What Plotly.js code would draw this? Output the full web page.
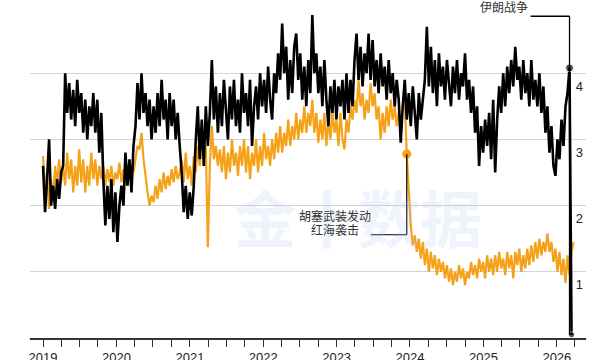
<!DOCTYPE html>
<html><head><meta charset="utf-8">
<script src="https://cdn.plot.ly/plotly-3.0.1.min.js"></script>
<style>html,body{margin:0;padding:0;background:#fff;}#chart{width:600px;height:360px;}</style>
</head><body><div id="chart"></div>
<script>
// ---- data ----
const startDate = '2019-01-01';
const stepDays = 10;
const blackValues = [
  2.6, 1.9, 2.4, 3.0, 2.0, 2.3, 1.95, 2.4, 2.1, 2.5,
  2.6, 4.0, 3.4, 3.85, 3.3, 3.75, 3.2, 3.9, 3.4, 3.7,
  3.1, 3.6, 3.0, 3.5, 3.2, 3.7, 3.1, 3.6, 2.8, 3.4,
  2.4, 1.7, 2.3, 1.8, 2.4, 1.6, 2.2, 1.45, 2.0, 2.3,
  2.0, 2.8, 2.3, 2.7, 2.2, 2.9, 3.2, 3.85, 3.3, 4.0,
  3.4, 3.7, 3.2, 3.6, 3.0, 3.5, 3.1, 3.7, 3.2, 3.9,
  3.3, 3.6, 3.0, 3.7, 3.2, 3.6, 3.0, 3.4, 2.9, 2.5,
  1.9, 2.3, 1.8, 2.2, 1.85, 2.3, 3.0, 3.5, 2.7, 3.3,
  2.6, 3.5, 2.9, 3.4, 4.2, 3.3, 3.8, 3.1, 3.7, 3.2,
  3.9, 3.4, 3.0, 3.8, 3.3, 3.9, 3.2, 3.6, 3.1, 4.0,
  3.4, 3.7, 3.2, 3.9, 2.9, 3.5, 3.8, 3.3, 4.0, 3.5,
  3.9, 3.4, 4.1, 3.6, 3.3, 4.0, 3.7, 4.3, 3.9, 4.75,
  4.0, 4.4, 3.6, 4.2, 3.7, 4.4, 4.6, 3.9, 4.3, 3.6,
  4.1, 3.5, 4.2, 3.7, 4.88, 4.0, 4.3, 3.7, 4.1, 3.5,
  4.2, 3.6, 3.2, 3.8, 3.4, 3.9, 3.3, 3.8, 3.5, 3.9,
  3.3, 4.0, 3.4, 3.9, 3.5, 4.2, 4.6, 3.9, 4.4, 3.8,
  4.3, 4.0, 4.6, 3.9, 4.5, 3.8, 4.2, 3.7, 4.3, 3.8,
  4.1, 3.6, 4.2, 3.7, 4.0, 3.5, 3.9, 3.6, 2.95, 3.5,
  3.9, 3.3, 3.7, 3.2, 3.8, 3.4, 3.0, 3.7, 3.3, 3.6,
  3.9, 4.7, 3.8, 4.4, 3.7, 4.2, 3.5, 4.3, 3.8, 4.1,
  3.6, 4.2, 3.8, 3.5, 4.1, 3.7, 4.2, 3.6, 4.0, 3.8,
  4.3, 3.6, 3.9, 3.4, 3.8, 3.1, 3.5, 2.6, 3.2, 2.8,
  3.3, 2.9, 3.4, 2.7, 3.6, 2.5, 3.3, 3.8, 3.4, 4.0,
  3.5, 4.1, 3.7, 4.2, 3.8, 4.4, 3.9, 4.1, 3.6, 4.2,
  3.7, 4.0, 3.5, 4.2, 3.6, 3.9, 3.5, 4.0, 3.4, 3.8,
  3.1, 3.5, 2.8, 3.2, 2.6, 2.45, 3.0, 2.7, 3.3, 2.9,
  3.5, 3.7, 4.08, 0.05
];
const orangeValues = [
  2.75, 2.2, 2.5, 1.95, 2.4, 2.1, 2.6, 2.3, 2.7, 2.35,
  2.6, 2.3, 2.8, 2.4, 2.7, 2.2, 2.6, 2.3, 2.85, 2.35,
  2.7, 2.2, 2.6, 2.3, 2.8, 2.4, 2.7, 2.3, 2.6, 2.4,
  2.6, 2.3, 2.55, 2.35, 2.6, 2.3, 2.5, 2.4, 2.65, 2.35,
  2.55, 2.3, 2.5, 2.4, 2.6, 2.5, 2.7, 2.9, 2.85, 3.1,
  2.7, 2.4, 2.2, 2.0, 2.15, 2.05, 2.3, 2.1, 2.4, 2.2,
  2.5, 2.25, 2.45, 2.3, 2.55, 2.35, 2.6, 2.4, 2.5, 2.7,
  2.35, 2.8, 2.4, 2.6, 2.3, 2.75, 2.5, 2.9, 2.6, 3.1,
  2.7, 2.9, 1.37, 2.6, 3.2, 2.7, 2.9, 2.6, 2.85, 2.5,
  2.9, 2.4, 2.8, 2.5, 3.0, 2.6, 2.8, 2.45, 2.9, 2.6,
  3.0, 2.5, 2.9, 2.4, 2.8, 2.6, 3.0, 2.5, 2.9, 2.6,
  3.1, 2.7, 2.9, 2.6, 3.0, 2.7, 3.1, 2.8, 3.2, 2.8,
  3.1, 2.9, 3.3, 2.9, 3.2, 3.0, 3.4, 3.0, 3.3, 3.1,
  3.5, 3.1, 3.4, 3.2, 3.6, 3.1, 3.4, 2.95, 3.3, 3.0,
  3.4, 2.9, 3.3, 3.0, 3.45, 3.1, 3.3, 2.9, 3.4, 3.0,
  2.85, 3.3, 3.1, 3.5, 3.3, 3.6, 3.4, 3.9, 3.5, 3.7,
  3.3, 3.6, 3.4, 3.85, 3.5, 3.7, 3.3, 3.5, 3.0, 3.4,
  3.1, 3.5, 3.2, 3.6, 3.3, 3.5, 3.2, 3.4, 3.3, 3.5,
  3.6, 2.78, 2.2, 1.7, 1.4, 1.55, 1.3, 1.5, 1.2, 1.45,
  1.1, 1.35, 1.0, 1.3, 1.05, 1.25, 0.95, 1.2, 1.0, 1.15,
  0.9, 1.1, 0.85, 1.05, 0.8, 1.0, 0.85, 1.1, 0.9, 1.05,
  0.8, 1.0, 0.9, 1.15, 0.95, 1.1, 0.9, 1.2, 1.0, 1.15,
  0.9, 1.25, 1.0, 1.2, 0.95, 1.25, 1.0, 1.3, 1.05, 1.2,
  0.95, 1.3, 1.05, 1.25, 0.9, 1.3, 1.1, 1.35, 1.0, 1.25,
  1.05, 1.35, 1.1, 1.4, 1.15, 1.45, 1.2, 1.5, 1.25, 1.45,
  1.3, 1.58, 1.3, 1.45, 1.15, 1.35, 1.0, 1.3, 0.95, 1.2,
  0.83, 1.25, 0.95, 1.3, 1.45
];
const yTickValues = [0, 1, 2, 3, 4, 5];
const yTickText = ['0', '1', '2', '3', '4', ''];
const redSeaIdx = 181;   // point on orange series where the annotation attaches
const iranIdx = 262;     // last high point of black series
const redSeaLines = ['胡塞武装发动', '红海袭击'];
const iranLabel = '伊朗战争';
const watermarkText = '金十数据';

// ---- helpers ----
function dateAt(i) {
  const t = Date.parse(startDate + 'T00:00:00Z') + i * stepDays * 86400000;
  return new Date(t).toISOString().slice(0, 10);
}
function shiftDate(d, days) {
  const t = Date.parse(d + 'T00:00:00Z') + days * 86400000;
  return new Date(t).toISOString().slice(0, 10);
}
const blackDates = blackValues.map((_, i) => dateAt(i));
const orangeDates = orangeValues.map((_, i) => dateAt(i));

const ORANGE = '#F5A21B';
const cjk = '"Noto Sans CJK SC", "Liberation Sans", sans-serif';

const redSeaDate = orangeDates[redSeaIdx];
const redSeaVal = orangeValues[redSeaIdx];
const iranDate = blackDates[iranIdx];
const iranVal = blackValues[iranIdx];
const lastIdx = blackValues.length - 1;

const elbowY = 1.56;
const iranLineY = 4.86;

const traces = [
  {x: orangeDates, y: orangeValues, type: 'scatter', mode: 'lines',
   line: {color: ORANGE, width: 2.2}, hoverinfo: 'skip'},
  {x: blackDates, y: blackValues, type: 'scatter', mode: 'lines',
   line: {color: '#000', width: 2.6}, hoverinfo: 'skip'},
  {x: [redSeaDate], y: [redSeaVal], type: 'scatter', mode: 'markers',
   marker: {color: ORANGE, size: 9}, cliponaxis: false},
  {x: [iranDate, blackDates[lastIdx]], y: [iranVal, blackValues[lastIdx]], type: 'scatter', mode: 'markers',
   marker: {color: '#000', size: [8, 6]}, cliponaxis: false}
];

const layout = {
  width: 600, height: 360,
  margin: {l: 30, r: 14, t: 7, b: 22},
  paper_bgcolor: '#fff', plot_bgcolor: '#fff',
  showlegend: false,
  font: {family: '"Liberation Sans", Arial, sans-serif', color: '#222', size: 13},
  xaxis: {
    type: 'date',
    range: ['2018-10-28', '2026-05-26'],
    tickmode: 'linear', tick0: '2019-01-01', dtick: 'M12', tickformat: '%Y',
    ticks: 'outside', ticklen: 7, tickwidth: 1, tickcolor: '#333',
    minor: {dtick: 'M3', tick0: '2019-01-01', ticks: 'outside', ticklen: 7, tickwidth: 1, tickcolor: '#333', showgrid: false},
    showline: true, linecolor: '#333', linewidth: 1.5,
    showgrid: false, zeroline: false,
    tickfont: {size: 13, color: '#222'},
    automargin: false, fixedrange: true
  },
  yaxis: {
    range: [0, 5],
    side: 'right',
    tickmode: 'array', tickvals: yTickValues, ticktext: yTickText,
    ticklabelposition: 'inside', ticklabelshift: 13,
    ticks: '', showline: false, zeroline: false,
    showgrid: true, gridcolor: '#d4d4d4', gridwidth: 1,
    tickfont: {size: 13, color: '#222'},
    automargin: false, fixedrange: true
  },
  shapes: [
    {type: 'line', xref: 'x', yref: 'y', x0: shiftDate(iranDate, -194), x1: iranDate, y0: iranLineY, y1: iranLineY,
     line: {color: '#000', width: 1.3}},
    {type: 'line', xref: 'x', yref: 'y', x0: iranDate, x1: iranDate, y0: iranLineY, y1: blackValues[lastIdx],
     line: {color: '#000', width: 1.3}},
    {type: 'line', xref: 'x', yref: 'y', x0: redSeaDate, x1: redSeaDate, y0: redSeaVal, y1: elbowY,
     line: {color: '#000', width: 1.2}},
    {type: 'line', xref: 'x', yref: 'y', x0: shiftDate(redSeaDate, -179), x1: redSeaDate, y0: elbowY, y1: elbowY,
     line: {color: '#000', width: 1.2}}
  ],
  annotations: [
    {text: watermarkText, xref: 'paper', yref: 'paper', x: 0.59, y: 0.37,
     showarrow: false, font: {family: cjk, size: 62, color: 'rgba(175,195,238,0.2)', weight: 700}},
    {text: iranLabel, xref: 'x', yref: 'y', x: shiftDate(iranDate, -196), y: iranLineY,
     xanchor: 'right', yanchor: 'middle', yshift: 10, showarrow: false,
     font: {family: cjk, size: 12, color: '#333'}},
    {text: redSeaLines[0], xref: 'x', yref: 'y', x: shiftDate(redSeaDate, -358), y: elbowY,
     xanchor: 'center', yanchor: 'middle', yshift: 19, showarrow: false,
     font: {family: cjk, size: 12, color: '#333'}},
    {text: redSeaLines[1], xref: 'x', yref: 'y', x: shiftDate(redSeaDate, -358), y: elbowY,
     xanchor: 'center', yanchor: 'middle', yshift: 5, showarrow: false,
     font: {family: cjk, size: 12, color: '#333'}}
  ]
};

Plotly.newPlot('chart', traces, layout, {displayModeBar: false, staticPlot: true});
</script>
</body></html>
